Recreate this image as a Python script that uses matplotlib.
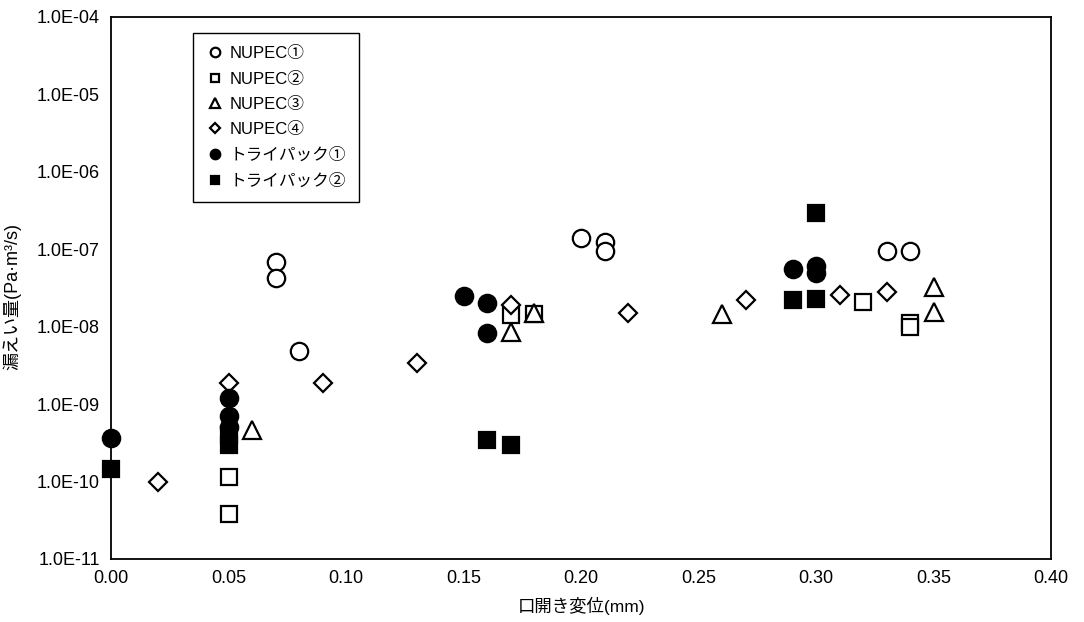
import matplotlib
matplotlib.use("Agg")
import matplotlib.pyplot as plt
from matplotlib.ticker import FixedLocator, FuncFormatter
import numpy as np

plt.rcParams['font.family'] = ['Liberation Sans', 'Noto Sans CJK JP', 'DejaVu Sans']

# opening displacement (mm) and leak rate (Pa*m3/s) per series
nupec1_x = [0.07, 0.07, 0.08, 0.20, 0.21, 0.21, 0.33, 0.34]
nupec1_y = [6.8e-8, 4.3e-8, 4.8e-9, 1.4e-7, 1.25e-7, 9.5e-8, 9.5e-8, 9.5e-8]

nupec2_x = [0.05, 0.05, 0.17, 0.18, 0.32, 0.34, 0.34]
nupec2_y = [1.15e-10, 3.8e-11, 1.4e-8, 1.45e-8, 2.1e-8, 1.1e-8, 9.8e-9]

nupec3_x = [0.06, 0.17, 0.18, 0.26, 0.35, 0.35]
nupec3_y = [4.7e-10, 8.5e-9, 1.5e-8, 1.45e-8, 3.3e-8, 1.55e-8]

nupec4_x = [0.02, 0.05, 0.09, 0.13, 0.17, 0.22, 0.27, 0.31, 0.33]
nupec4_y = [1.0e-10, 1.9e-9, 1.9e-9, 3.4e-9, 1.9e-8, 1.5e-8, 2.2e-8, 2.6e-8, 2.8e-8]

tri1_x = [0.00, 0.05, 0.05, 0.05, 0.15, 0.16, 0.16, 0.29, 0.30, 0.30]
tri1_y = [3.6e-10, 1.2e-9, 7.0e-10, 5.0e-10, 2.5e-8, 2.0e-8, 8.2e-9, 5.5e-8, 6.0e-8, 5.0e-8]

tri2_x = [0.00, 0.05, 0.05, 0.16, 0.17, 0.29, 0.30, 0.30]
tri2_y = [1.45e-10, 4.0e-10, 3.0e-10, 3.4e-10, 3.0e-10, 2.2e-8, 2.25e-8, 2.9e-7]

labels = ["NUPEC①", "NUPEC②", "NUPEC③", "NUPEC④", "トライパック①", "トライパック②"]

fig = plt.figure(figsize=(10.84, 6.22), dpi=100)
ax = fig.add_axes([0.1024, 0.1013, 0.8672, 0.8714])

series = [
    (nupec1_x, nupec1_y, 'o', 'white', 12.5),
    (nupec2_x, nupec2_y, 's', 'white', 11.5),
    (nupec3_x, nupec3_y, '^', 'white', 13),
    (nupec4_x, nupec4_y, 'D', 'white', 9.5),
    (tri1_x, tri1_y, 'o', 'black', 12.5),
    (tri2_x, tri2_y, 's', 'black', 11.5),
]

handles = []
for (x, y, m, fc, ms), lab in zip(series, labels):
    h, = ax.plot(x, y, linestyle='none', marker=m, markersize=ms,
                 markerfacecolor=fc, markeredgecolor='black',
                 markeredgewidth=1.6, label=lab, clip_on=False, zorder=3)
    handles.append(h)

ax.set_yscale('log')
ax.set_xlim(0, 0.40)
ax.set_ylim(1e-11, 1e-4)
ax.xaxis.set_major_locator(FixedLocator(np.arange(0, 0.401, 0.05)))
ax.xaxis.set_major_formatter(FuncFormatter(lambda v, p: "%.2f" % v))
ax.yaxis.set_major_locator(FixedLocator([10.0 ** k for k in range(-11, -3)]))
ax.yaxis.set_minor_locator(FixedLocator([]))
ax.yaxis.set_major_formatter(FuncFormatter(lambda v, p: "1.0E-%02d" % round(-np.log10(v))))
ax.tick_params(axis='both', length=0, labelsize=13)
ax.tick_params(axis='y', pad=8)
ax.tick_params(axis='x', pad=8)

for s in ax.spines.values():
    s.set_linewidth(1.3)

ax.set_xlabel("口開き変位(mm)", fontsize=12.5, labelpad=7)
ax.set_ylabel("漏えい量(Pa·m³/s)", fontsize=13, labelpad=7)
ax.yaxis.set_label_coords(-0.095, 0.485)

leg = ax.legend(handles=handles, loc='upper left', bbox_to_anchor=(0.0872, 0.9705),
                borderaxespad=0, fontsize=12, markerscale=0.55, handlelength=1.1,
                handletextpad=0.3, labelspacing=0.62, borderpad=0.8,
                fancybox=False, framealpha=1, edgecolor='black')
leg.get_frame().set_linewidth(1.0)

fig.savefig("out.png", dpi=100)
